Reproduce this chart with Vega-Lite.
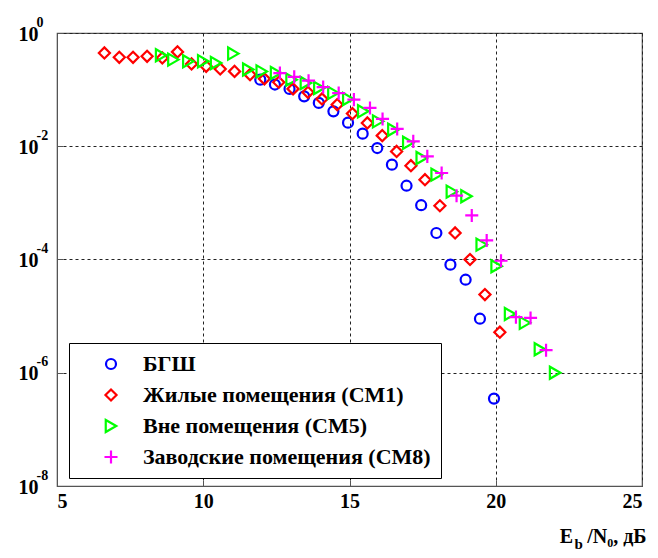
{
  "$schema": "https://vega.github.io/schema/vega-lite/v6.json",
  "width": 585,
  "height": 453,
  "autosize": "none",
  "padding": {"left": 57, "top": 33, "right": 16, "bottom": 72},
  "background": "white",
  "config": {
    "font": "Liberation Serif",
    "view": {"stroke": "#555", "strokeWidth": 1.2},
    "axis": {
      "labelFont": "Liberation Serif",
      "labelFontWeight": "bold",
      "labelFontSize": 20,
      "labelColor": "black",
      "titleFont": "Liberation Serif",
      "titleFontWeight": "bold",
      "titleFontSize": 20,
      "titleColor": "black",
      "domainColor": "#555",
      "tickColor": "#555",
      "tickSize": -6,
      "gridColor": "#222",
      "gridDash": [3, 3],
      "gridWidth": 1,
      "gridOpacity": 1
    },
    "legend": {
      "orient": "none",
      "legendX": 12,
      "legendY": 310,
      "strokeColor": "black",
      "fillColor": "white",
      "padding": 10,
      "labelFont": "Liberation Serif",
      "labelFontSize": 22,
      "labelFontWeight": "bold",
      "labelColor": "black",
      "labelLimit": 500,
      "symbolSize": 55,
      "symbolStrokeWidth": 2.2,
      "symbolOffset": 21,
      "labelOffset": 21,
      "rowPadding": 9
    }
  },
  "data": {
    "values": [
      {"s": "БГШ", "x": 11.95, "y": 0.150},
      {"s": "БГШ", "x": 12.45, "y": 0.123},
      {"s": "БГШ", "x": 12.95, "y": 0.103},
      {"s": "БГШ", "x": 13.45, "y": 0.076},
      {"s": "БГШ", "x": 13.95, "y": 0.0582},
      {"s": "БГШ", "x": 14.45, "y": 0.0414},
      {"s": "БГШ", "x": 14.95, "y": 0.0261},
      {"s": "БГШ", "x": 15.45, "y": 0.0167},
      {"s": "БГШ", "x": 15.95, "y": 0.0093},
      {"s": "БГШ", "x": 16.45, "y": 0.00473},
      {"s": "БГШ", "x": 16.95, "y": 0.00201},
      {"s": "БГШ", "x": 17.45, "y": 0.00091},
      {"s": "БГШ", "x": 17.97, "y": 0.000294},
      {"s": "БГШ", "x": 18.45, "y": 0.000081},
      {"s": "БГШ", "x": 18.97, "y": 0.000044},
      {"s": "БГШ", "x": 19.46, "y": 0.000009},
      {"s": "БГШ", "x": 19.94, "y": 0.00000035},
      {"s": "Жилые помещения (CM1)", "x": 6.62, "y": 0.445},
      {"s": "Жилые помещения (CM1)", "x": 7.13, "y": 0.372},
      {"s": "Жилые помещения (CM1)", "x": 7.6, "y": 0.372},
      {"s": "Жилые помещения (CM1)", "x": 8.08, "y": 0.388},
      {"s": "Жилые помещения (CM1)", "x": 8.6, "y": 0.363},
      {"s": "Жилые помещения (CM1)", "x": 9.12, "y": 0.464},
      {"s": "Жилые помещения (CM1)", "x": 9.6, "y": 0.284},
      {"s": "Жилые помещения (CM1)", "x": 10.1, "y": 0.258},
      {"s": "Жилые помещения (CM1)", "x": 10.58, "y": 0.232},
      {"s": "Жилые помещения (CM1)", "x": 11.07, "y": 0.21},
      {"s": "Жилые помещения (CM1)", "x": 11.6, "y": 0.184},
      {"s": "Жилые помещения (CM1)", "x": 12.09, "y": 0.155},
      {"s": "Жилые помещения (CM1)", "x": 12.58, "y": 0.135},
      {"s": "Жилые помещения (CM1)", "x": 13.07, "y": 0.103},
      {"s": "Жилые помещения (CM1)", "x": 13.58, "y": 0.0896},
      {"s": "Жилые помещения (CM1)", "x": 14.06, "y": 0.0685},
      {"s": "Жилые помещения (CM1)", "x": 14.58, "y": 0.0543},
      {"s": "Жилые помещения (CM1)", "x": 15.1, "y": 0.0377},
      {"s": "Жилые помещения (CM1)", "x": 15.61, "y": 0.0258},
      {"s": "Жилые помещения (CM1)", "x": 16.12, "y": 0.0154},
      {"s": "Жилые помещения (CM1)", "x": 16.61, "y": 0.0081},
      {"s": "Жилые помещения (CM1)", "x": 17.1, "y": 0.00454},
      {"s": "Жилые помещения (CM1)", "x": 17.58, "y": 0.00257},
      {"s": "Жилые помещения (CM1)", "x": 18.09, "y": 0.00089},
      {"s": "Жилые помещения (CM1)", "x": 18.61, "y": 0.000294},
      {"s": "Жилые помещения (CM1)", "x": 19.12, "y": 0.0001},
      {"s": "Жилые помещения (CM1)", "x": 19.63, "y": 0.000024},
      {"s": "Жилые помещения (CM1)", "x": 20.14, "y": 0.0000052},
      {"s": "Вне помещения (CM5)", "x": 8.56, "y": 0.404},
      {"s": "Вне помещения (CM5)", "x": 8.98, "y": 0.339},
      {"s": "Вне помещения (CM5)", "x": 9.49, "y": 0.316},
      {"s": "Вне помещения (CM5)", "x": 10.0, "y": 0.318},
      {"s": "Вне помещения (CM5)", "x": 10.44, "y": 0.296},
      {"s": "Вне помещения (CM5)", "x": 11.03, "y": 0.433},
      {"s": "Вне помещения (CM5)", "x": 11.54, "y": 0.226},
      {"s": "Вне помещения (CM5)", "x": 12.0, "y": 0.21},
      {"s": "Вне помещения (CM5)", "x": 12.49, "y": 0.197},
      {"s": "Вне помещения (CM5)", "x": 13.02, "y": 0.15},
      {"s": "Вне помещения (CM5)", "x": 13.51, "y": 0.131},
      {"s": "Вне помещения (CM5)", "x": 13.97, "y": 0.107},
      {"s": "Вне помещения (CM5)", "x": 14.45, "y": 0.0875},
      {"s": "Вне помещения (CM5)", "x": 14.96, "y": 0.0685},
      {"s": "Вне помещения (CM5)", "x": 15.47, "y": 0.0414},
      {"s": "Вне помещения (CM5)", "x": 15.98, "y": 0.0275},
      {"s": "Вне помещения (CM5)", "x": 16.5, "y": 0.0196},
      {"s": "Вне помещения (CM5)", "x": 17.01, "y": 0.0115},
      {"s": "Вне помещения (CM5)", "x": 17.47, "y": 0.0062},
      {"s": "Вне помещения (CM5)", "x": 17.98, "y": 0.00315},
      {"s": "Вне помещения (CM5)", "x": 18.5, "y": 0.00158},
      {"s": "Вне помещения (CM5)", "x": 19.0, "y": 0.00131},
      {"s": "Вне помещения (CM5)", "x": 19.52, "y": 0.000183},
      {"s": "Вне помещения (CM5)", "x": 20.03, "y": 0.000076},
      {"s": "Вне помещения (CM5)", "x": 20.49, "y": 0.0000109},
      {"s": "Вне помещения (CM5)", "x": 21.0, "y": 0.0000076},
      {"s": "Вне помещения (CM5)", "x": 21.51, "y": 0.0000026},
      {"s": "Вне помещения (CM5)", "x": 22.03, "y": 0.000001},
      {"s": "Заводские помещения (CM8)", "x": 12.62, "y": 0.196},
      {"s": "Заводские помещения (CM8)", "x": 13.11, "y": 0.168},
      {"s": "Заводские помещения (CM8)", "x": 13.6, "y": 0.144},
      {"s": "Заводские помещения (CM8)", "x": 14.1, "y": 0.111},
      {"s": "Заводские помещения (CM8)", "x": 14.63, "y": 0.0867},
      {"s": "Заводские помещения (CM8)", "x": 15.15, "y": 0.0666},
      {"s": "Заводские помещения (CM8)", "x": 15.7, "y": 0.0475},
      {"s": "Заводские помещения (CM8)", "x": 16.13, "y": 0.0304},
      {"s": "Заводские помещения (CM8)", "x": 16.63, "y": 0.0202},
      {"s": "Заводские помещения (CM8)", "x": 17.18, "y": 0.0122},
      {"s": "Заводские помещения (CM8)", "x": 17.66, "y": 0.00663},
      {"s": "Заводские помещения (CM8)", "x": 18.15, "y": 0.00337},
      {"s": "Заводские помещения (CM8)", "x": 18.66, "y": 0.00134},
      {"s": "Заводские помещения (CM8)", "x": 19.18, "y": 0.0006},
      {"s": "Заводские помещения (CM8)", "x": 19.69, "y": 0.000217},
      {"s": "Заводские помещения (CM8)", "x": 20.18, "y": 0.000095},
      {"s": "Заводские помещения (CM8)", "x": 20.69, "y": 0.0000096},
      {"s": "Заводские помещения (CM8)", "x": 21.19, "y": 0.0000093},
      {"s": "Заводские помещения (CM8)", "x": 21.72, "y": 0.0000025}
    ]
  },
  "resolve": {"axis": {"x": "independent", "y": "independent"}},
  "layer": [
    {
      "mark": {"type": "point", "filled": false, "strokeWidth": 2.2, "opacity": 1, "clip": true},
      "encoding": {
        "x": {
          "field": "x",
          "type": "quantitative",
          "scale": {"domain": [5, 25], "nice": false, "zero": false},
          "axis": {
            "orient": "bottom",
            "values": [5, 10, 15, 20, 25],
            "grid": true,
            "labelPadding": 11,
            "title": "E\u2002\u2009/N₀, дБ",
            "titleAnchor": "end",
            "titleAlign": "right",
            "titleBaseline": "alphabetic",
            "titleX": 589,
            "titleY": 56
          }
        },
        "y": {
          "field": "y",
          "type": "quantitative",
          "scale": {"type": "log", "domain": [1e-8, 1], "nice": false},
          "axis": {
            "orient": "left",
            "values": [1, 0.01, 0.0001, 0.000001, 0.00000001],
            "grid": true,
            "labelAlign": "left",
            "labelPadding": 45,
            "labelOffset": 1,
            "labelExpr": "'10'",
            "title": null
          }
        },
        "color": {
          "field": "s",
          "type": "nominal",
          "scale": {
            "domain": ["БГШ", "Жилые помещения (CM1)", "Вне помещения (CM5)", "Заводские помещения (CM8)"],
            "range": ["#0000ff", "#ff0000", "#00ff00", "#ff00ff"]
          },
          "legend": {"title": null}
        },
        "shape": {
          "field": "s",
          "type": "nominal",
          "scale": {
            "domain": ["БГШ", "Жилые помещения (CM1)", "Вне помещения (CM5)", "Заводские помещения (CM8)"],
            "range": ["circle", "diamond", "triangle-right", "M-1,0L1,0M0,-1L0,1"]
          },
          "legend": {"title": null}
        },
        "size": {
          "field": "s",
          "type": "nominal",
          "scale": {
            "domain": ["БГШ", "Жилые помещения (CM1)", "Вне помещения (CM5)", "Заводские помещения (CM8)"],
            "range": [100, 170, 150, 180]
          },
          "legend": null
        }
      }
    },
    {
      "mark": {"type": "point", "opacity": 0},
      "encoding": {
        "x": {
          "field": "x",
          "type": "quantitative",
          "axis": {
            "orient": "bottom",
            "labels": false,
            "ticks": false,
            "domain": false,
            "grid": false,
            "title": "b",
            "titleFontSize": 15,
            "titleAnchor": "start",
            "titleAlign": "left",
            "titleBaseline": "alphabetic",
            "titleX": 517,
            "titleY": 62
          }
        },
        "y": {
          "field": "y",
          "type": "quantitative",
          "axis": {
            "orient": "left",
            "values": [1, 0.01, 0.0001, 0.000001, 0.00000001],
            "ticks": false,
            "domain": false,
            "grid": false,
            "labelFontSize": 14,
            "labelAlign": "left",
            "labelPadding": 21,
            "labelOffset": -11,
            "labelExpr": "'' + round(log(datum.value)/LN10)",
            "title": null
          }
        }
      }
    }
  ]
}
